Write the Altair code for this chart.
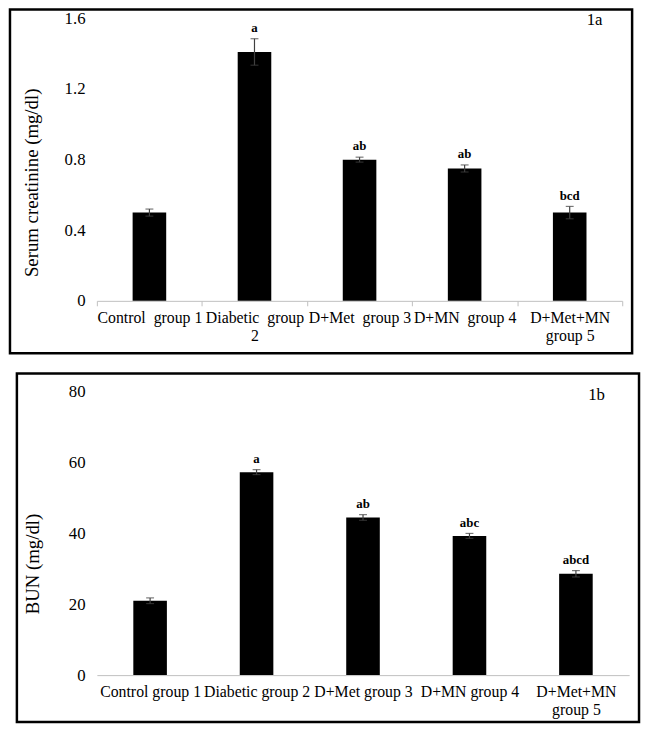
import altair as alt
import pandas as pd

FONT = "Liberation Serif"

# ---- Panel 1a: serum creatinine ----
groups_a = ["Control\u00a0 group 1", "Diabetic\u00a0 group|2", "D+Met\u00a0 group 3",
            "D+MN\u00a0 group 4", "D+Met+MN|group 5"]
creat_mean = [0.50, 1.41, 0.80, 0.75, 0.50]
creat_err = [0.02, 0.075, 0.014, 0.02, 0.035]
creat_sig = ["", "a", "ab", "ab", "bcd"]
creat_ticks = [0, 0.4, 0.8, 1.2, 1.6]

# ---- Panel 1b: BUN ----
groups_b = ["Control group 1", "Diabetic group 2", "D+Met group 3",
            "D+MN group 4", "D+Met+MN|group 5"]
bun_mean = [21.0, 57.3, 44.5, 39.3, 28.6]
bun_err = [0.8, 0.7, 0.8, 0.7, 0.9]
bun_sig = ["", "a", "ab", "abc", "abcd"]
bun_ticks = [0, 20, 40, 60, 80]


def panel(groups, mean, err, sig, ymax, yticks, yfmt, ytitle, tag, width, height,
          frame, title_x, title_y, tag_xy, x_ticks):
    df = pd.DataFrame({
        "group": groups,
        "mean": mean,
        "lo": [m - e for m, e in zip(mean, err)],
        "hi": [m + e for m, e in zip(mean, err)],
        "sig": sig,
    })
    base = alt.Chart(df)
    x = alt.X(
        "group:N", sort=groups,
        scale=alt.Scale(paddingInner=0, paddingOuter=0),
        axis=alt.Axis(
            title=None, labelAngle=0, labelExpr="split(datum.label, '|')",
            labelFont=FONT, labelFontSize=16, labelColor="black",
            labelLineHeight=18, labelOverlap=False,
            domainColor="#bfbfbf", domainWidth=1,
            ticks=x_ticks, tickColor="#bfbfbf", tickSize=5 if x_ticks else 0,
            tickBand="extent", labelPadding=4 if x_ticks else 9,
        ),
    )
    y = alt.Y(
        "mean:Q",
        scale=alt.Scale(domain=[0, ymax], nice=False),
        axis=alt.Axis(
            values=yticks, format=yfmt, title=ytitle, grid=False,
            domain=False, ticks=False, tickSize=0, labelPadding=12,
            labelFont=FONT, labelFontSize=17, labelColor="black",
            titleFont=FONT, titleFontSize=19, titleFontWeight="normal",
            titleColor="black", titleX=title_x, titleY=title_y,
            titleAngle=270, titleBaseline="middle", titleAlign="center",
        ),
    )
    bars = base.mark_bar(color="black", size=34).encode(x=x, y=y)
    rule = base.mark_rule(color="#404040", strokeWidth=1.2).encode(
        x=x, y=alt.Y("lo:Q"), y2="hi:Q")
    cap_hi = base.mark_tick(color="#404040", size=8, thickness=1.2).encode(
        x=x, y=alt.Y("hi:Q"))
    cap_lo = base.mark_tick(color="#404040", size=8, thickness=1.2).encode(
        x=x, y=alt.Y("lo:Q"))
    letters = base.mark_text(font=FONT, fontSize=13, fontWeight="bold",
                             baseline="bottom", dy=-4, color="black").encode(
        x=x, y=alt.Y("hi:Q"), text="sig:N")
    tagc = alt.Chart(pd.DataFrame({"t": [tag]})).mark_text(
        font=FONT, fontSize=17, color="black", align="center",
        baseline="middle").encode(
        x=alt.value(tag_xy[0]), y=alt.value(tag_xy[1]), text="t:N")
    fr = alt.Chart(pd.DataFrame({"f": [0]})).mark_rect(
        fill="white", fillOpacity=0, stroke="black", strokeWidth=2.5).encode(
        x=alt.value(frame[0]), x2=alt.value(frame[1]),
        y=alt.value(frame[2]), y2=alt.value(frame[3]))
    return alt.layer(fr, bars, rule, cap_hi, cap_lo, letters, tagc).properties(
        width=width, height=height)


top = panel(groups_a, creat_mean, creat_err, creat_sig, 1.6, creat_ticks, ".1~f",
            "Serum creatinine (mg/dl)", "1a", 532, 286,
            (-88, 542, -9, 339), -66, 166, (504, 2), True)
bottom = panel(groups_b, bun_mean, bun_err, bun_sig, 80, bun_ticks, "d",
               "BUN (mg/dl)", "1b", 539, 287,
               (-81, 549, -18.5, 334.5), -65, 174, (506, 3), False)

chart = alt.concat(top, bottom, columns=1, spacing=16).properties(
    align="none", padding={"top": -5, "left": 0, "right": 0, "bottom": 0}
).configure_view(stroke="transparent")

chart.save("out.html", embed_options={"renderer": "svg", "actions": False})
